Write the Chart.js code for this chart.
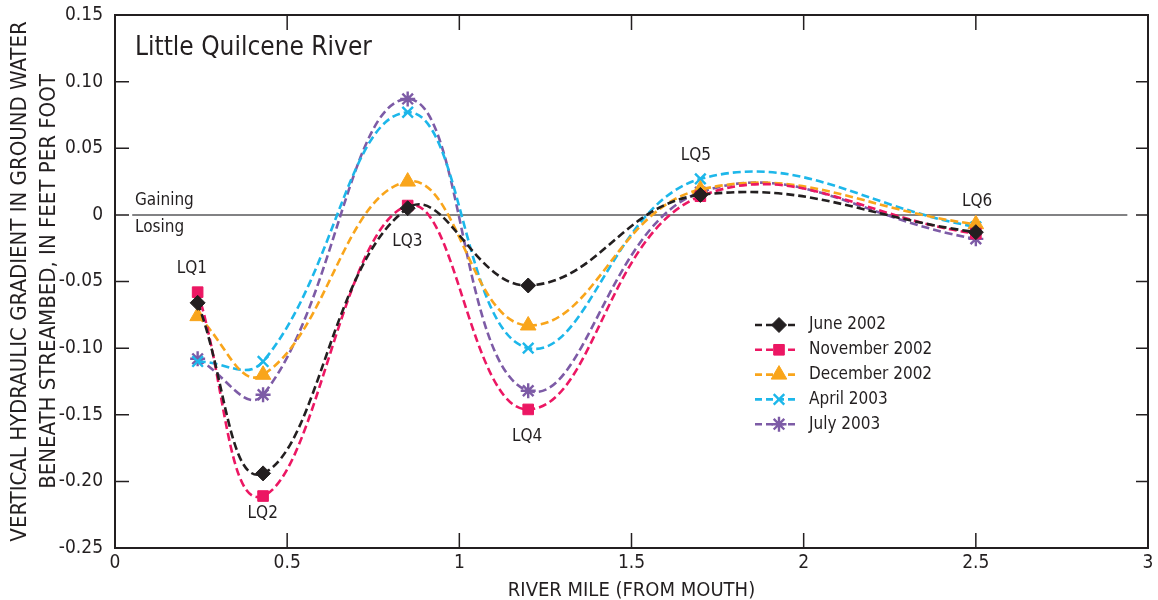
<!DOCTYPE html>
<html lang="en">
<head>
  <meta charset="utf-8">
  <title>Little Quilcene River - vertical hydraulic gradient</title>
  <style>
    html, body { margin: 0; padding: 0; background: #fff; }
    #wrap { width: 1158px; height: 600px; }
  </style>
</head>
<body>
  <div id="wrap"><canvas id="chart" width="1158" height="600"></canvas></div>
  <script src="https://cdn.jsdelivr.net/npm/chart.js@4.4.1/dist/chart.umd.min.js"></script>
  <script>
    // river mile of each site (LQ1..LQ6)
    const siteNames = ['LQ1', 'LQ2', 'LQ3', 'LQ4', 'LQ5', 'LQ6'];
    const riverMile = [0.24, 0.43, 0.85, 1.2, 1.7, 2.5];

    // vertical hydraulic gradient, ft/ft
    const june2002 = [-0.066, -0.194, 0.005, -0.053, 0.015, -0.013];
    const nov2002 = [-0.058, -0.211, 0.007, -0.146, 0.014, -0.014];
    const dec2002 = [-0.076, -0.120, 0.025, -0.083, 0.019, -0.007];
    const apr2003 = [-0.110, -0.110, 0.077, -0.100, 0.027, -0.009];
    const jul2003 = [-0.108, -0.135, 0.087, -0.132, 0.017, -0.018];

    const seriesNames = ['June 2002', 'November 2002', 'December 2002', 'April 2003', 'July 2003'];
    const xTicks = [0, 0.5, 1, 1.5, 2, 2.5, 3];
    const yTicks = [0.15, 0.10, 0.05, 0, -0.05, -0.10, -0.15, -0.20, -0.25];

    const FONT = "'Liberation Sans Narrow', 'DejaVu Sans Condensed', sans-serif";
    const INK = '#231f20';

    const styles = [
      { color: '#231f20', pointStyle: 'rectRot', radius: 7.5, border: 1 },
      { color: '#ec1763', pointStyle: 'rect', radius: 7.5, border: 1 },
      { color: '#f9a51b', pointStyle: 'triangle', radius: 9, border: 1 },
      { color: '#1db7ea', pointStyle: 'crossRot', radius: 7.5, border: 2.4 },
      { color: '#7d5ba6', pointStyle: 'star', radius: 7.5, border: 2.4 }
    ];

    const allSeries = [june2002, nov2002, dec2002, apr2003, jul2003];

    const datasets = allSeries.map((vals, i) => ({
      label: seriesNames[i],
      data: vals.map((v, j) => ({ x: riverMile[j], y: v })),
      borderColor: styles[i].color,
      backgroundColor: styles[i].color,
      borderWidth: 2.6,
      borderDash: [8, 4],
      tension: 0.42,
      pointStyle: styles[i].pointStyle,
      pointRadius: styles[i].radius,
      pointBorderWidth: styles[i].border,
      pointBackgroundColor: styles[i].color,
      pointBorderColor: styles[i].color
    }));

    // frame, inward ticks, zero line, labels and legend
    const decorations = {
      id: 'decorations',
      beforeDatasetsDraw(chart) {
        const ctx = chart.ctx;
        const x = chart.scales.x, y = chart.scales.y;
        const a = chart.chartArea;
        ctx.save();
        // gaining / losing line
        ctx.strokeStyle = '#58595b';
        ctx.lineWidth = 1.5;
        ctx.beginPath();
        ctx.moveTo(x.getPixelForValue(0.05), y.getPixelForValue(0));
        ctx.lineTo(x.getPixelForValue(2.94), y.getPixelForValue(0));
        ctx.stroke();

        ctx.fillStyle = INK;
        ctx.textAlign = 'left';
        ctx.textBaseline = 'middle';
        ctx.font = '26px ' + FONT;
        ctx.fillText('Little Quilcene River', x.getPixelForValue(0.058), y.getPixelForValue(0.1253));
        ctx.font = '17px ' + FONT;
        ctx.fillText('Gaining', x.getPixelForValue(0.058), y.getPixelForValue(0.0105));
        ctx.fillText('Losing', x.getPixelForValue(0.058), y.getPixelForValue(-0.0098));

        // site labels
        const labelPos = [[0.223, -0.040], [0.429, -0.2244], [0.849, -0.0203],
                          [1.197, -0.1666], [1.687, 0.0443], [2.504, 0.0098]];
        ctx.textAlign = 'center';
        siteNames.forEach((s, i) => {
          ctx.fillText(s, x.getPixelForValue(labelPos[i][0]), y.getPixelForValue(labelPos[i][1]));
        });

        // frame
        ctx.strokeStyle = INK;
        ctx.lineWidth = 2;
        ctx.strokeRect(a.left, a.top, a.right - a.left, a.bottom - a.top);

        // inward ticks
        ctx.lineWidth = 1.5;
        ctx.beginPath();
        xTicks.slice(1, -1).forEach(v => {
          const px = x.getPixelForValue(v);
          ctx.moveTo(px, a.bottom); ctx.lineTo(px, a.bottom - 15);
          ctx.moveTo(px, a.top); ctx.lineTo(px, a.top + 15);
        });
        yTicks.slice(1, -1).forEach(v => {
          const py = y.getPixelForValue(v);
          ctx.moveTo(a.left, py); ctx.lineTo(a.left + 14, py);
          ctx.moveTo(a.right, py); ctx.lineTo(a.right - 12, py);
        });
        ctx.stroke();
        ctx.restore();
      },
      afterDraw(chart) {
        const ctx = chart.ctx;
        const a = chart.chartArea;
        const x0 = a.left + 640, y0 = a.top + 310, gap = 24.8;
        ctx.save();
        ctx.font = '17px ' + FONT;
        ctx.textAlign = 'left';
        ctx.textBaseline = 'middle';
        seriesNames.forEach((name, i) => {
          const st = styles[i];
          const yy = y0 + i * gap;
          ctx.strokeStyle = st.color;
          ctx.fillStyle = st.color;
          ctx.lineWidth = 2.6;
          ctx.setLineDash([7, 4]);
          ctx.beginPath();
          ctx.moveTo(x0, yy); ctx.lineTo(x0 + 42, yy);
          ctx.stroke();
          ctx.setLineDash([]);
          ctx.lineWidth = st.border;
          Chart.helpers.drawPoint(ctx, { pointStyle: st.pointStyle, radius: st.radius, rotation: 0, borderWidth: st.border }, x0 + 24, yy);
          ctx.fillStyle = INK;
          ctx.fillText(name, x0 + 54, yy);
        });
        ctx.restore();
      }
    };

    new Chart(document.getElementById('chart').getContext('2d'), {
      type: 'line',
      data: { datasets: datasets },
      options: {
        responsive: false,
        animation: false,
        layout: { padding: { top: 15, right: 8, left: 0, bottom: 0 } },
        plugins: { legend: { display: false }, tooltip: { enabled: false } },
        elements: { line: { capBezierPoints: false } },
        scales: {
          x: {
            type: 'linear', min: 0, max: 3,
            afterBuildTicks: s => { s.ticks = xTicks.map(v => ({ value: v })); },
            afterFit: s => { s.height = 52; },
            grid: { display: false, drawTicks: false },
            border: { display: false },
            ticks: { padding: 4, color: INK, font: { family: FONT, size: 19 }, callback: v => String(v), maxRotation: 0 },
            title: { display: true, text: 'RIVER MILE (FROM MOUTH)', color: INK, font: { family: FONT, size: 20 }, padding: { top: 0, bottom: -3 } }
          },
          y: {
            type: 'linear', min: -0.25, max: 0.15,
            afterBuildTicks: s => { s.ticks = yTicks.map(v => ({ value: v })); },
            afterFit: s => { s.width = 115; s.paddingTop = 0; s.paddingBottom = 0; },
            grid: { display: false, drawTicks: false },
            border: { display: false },
            ticks: { padding: 12, color: INK, font: { family: FONT, size: 19 },
              callback: v => Math.abs(v) < 1e-9 ? '0' : v.toFixed(2) },
            title: { display: true, text: ['VERTICAL HYDRAULIC GRADIENT IN GROUND WATER', 'BENEATH STREAMBED, IN FEET PER FOOT'],
              color: INK, font: { family: FONT, size: 22, lineHeight: 1.3 }, padding: { top: 6, bottom: 0 } }
          }
        }
      },
      plugins: [decorations]
    });
  </script>
</body>
</html>
